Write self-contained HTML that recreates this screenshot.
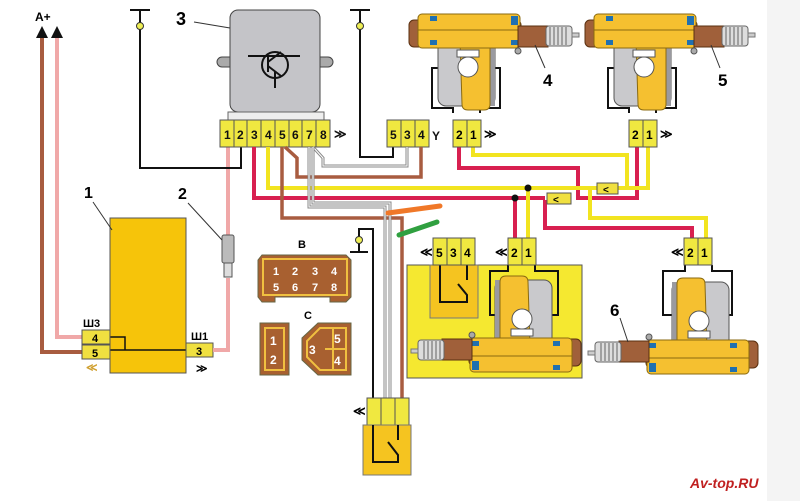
<!DOCTYPE html>
<html><head><meta charset="utf-8"><style>
html,body{margin:0;padding:0;background:#fff}
svg{display:block}
text{font-family:"Liberation Sans",sans-serif;font-weight:bold}
</style></head><body>
<svg width="800" height="501" viewBox="0 0 800 501" xmlns="http://www.w3.org/2000/svg">
<rect x="0" y="0" width="800" height="501" fill="#fff"/>
<rect x="767" y="0" width="33" height="501" fill="#f4f4f4"/>
<defs>
<g id="act">
  <rect x="438" y="40" width="57" height="66" rx="8" fill="#c9c9cc" stroke="#555" stroke-width="1"/>
  <rect x="472" y="40" width="23" height="66" fill="#9a9aa0"/>
  <path d="M460 40 L490 40 L490 104 Q490 110 484 110 L468 110 Q462 110 462 104 Z" fill="#f5c030" stroke="#8a6a10" stroke-width="1"/>
  <rect x="409" y="20" width="112" height="27" rx="5" fill="#a0603a" stroke="#5a3010"/>
  <rect x="418" y="14" width="102" height="34" rx="4" fill="#f5c030" stroke="#8a6a10"/>
  <line x1="418" y1="30" x2="520" y2="30" stroke="#8a6a10" stroke-width="1"/>
  <rect x="430" y="16" width="7" height="5" fill="#2070b0"/>
  <rect x="511" y="16" width="7" height="9" fill="#2070b0"/>
  <rect x="430" y="40" width="7" height="5" fill="#2070b0"/>
  <rect x="511" y="40" width="7" height="5" fill="#2070b0"/>
  <rect x="518" y="26" width="30" height="21" fill="#a0603a" stroke="#5a3010"/>
  <rect x="546" y="26" width="26" height="20" rx="3" fill="#ddd" stroke="#666"/>
  <path d="M550 27v18M554 27v18M558 27v18M562 27v18M566 27v18" stroke="#777" stroke-width="1.2"/>
  <rect x="572" y="33" width="7" height="4" fill="#ccc" stroke="#777"/>
  <circle cx="518" cy="51" r="3" fill="#aaa" stroke="#555"/>
  <rect x="457" y="50" width="22" height="7" fill="#fff" stroke="#555"/>
  <circle cx="468" cy="67" r="10" fill="#fff" stroke="#555"/>
</g>
</defs>

<path d="M42 38 V352 H84" stroke="#a85c40" stroke-width="4" fill="none"/>
<path d="M57 38 V337 H84" stroke="#f0a8a8" stroke-width="4" fill="none"/>
<path d="M36 38 L42 26 L48 38 Z M51 38 L57 26 L63 38 Z" fill="#111"/>
<text x="35" y="21" font-size="12">A+</text>

<rect x="110" y="218" width="76" height="155" fill="#f6c40a" stroke="#555"/>
<path d="M110 337 H125 V350 M110 350 H186" stroke="#111" stroke-width="1.5" fill="none"/>
<rect x="82" y="330" width="28" height="14" fill="#f0e040" stroke="#555"/>
<rect x="82" y="345" width="28" height="14" fill="#f0e040" stroke="#555"/>
<text x="92" y="342" font-size="11" font-weight="normal">4</text>
<text x="92" y="357" font-size="11" font-weight="normal">5</text>
<text x="83" y="327" font-size="11">Ш3</text>
<text x="86" y="371" font-size="11" fill="#d0a030">≪</text>
<rect x="186" y="343" width="27" height="14" fill="#f0e040" stroke="#555"/>
<text x="196" y="355" font-size="11" font-weight="normal">3</text>
<text x="191" y="340" font-size="11">Ш1</text>
<text x="196" y="372" font-size="11" font-weight="normal">≫</text>
<text x="84" y="198" font-size="16">1</text>
<line x1="93" y1="202" x2="112" y2="230" stroke="#333"/>

<path d="M228 147 V235 M228 278 V350 H213" stroke="#f0a8a8" stroke-width="4" fill="none"/>
<rect x="222" y="235" width="12" height="28" rx="2" fill="#bbb" stroke="#555"/>
<rect x="224" y="263" width="8" height="14" fill="#ddd" stroke="#555"/>
<text x="178" y="199" font-size="16">2</text>
<line x1="188" y1="203" x2="222" y2="240" stroke="#333"/>

<path d="M130 10 H150 M140 10 V25 M140 25 V168 H241 V147" stroke="#111" stroke-width="2" fill="none"/>
<circle cx="140" cy="26" r="3.5" fill="#ee5" stroke="#333"/>
<path d="M350 10 H370 M360 10 V157 H393 V147" stroke="#111" stroke-width="2" fill="none"/>
<circle cx="360" cy="26" r="3.5" fill="#ee5" stroke="#333"/>

<path d="M222 57 h10 v10 h-10 a5 5 0 0 1 0-10z M328 57 h-10 v10 h10 a5 5 0 0 0 0-10z" fill="#aaa" stroke="#444"/>
<rect x="230" y="10" width="90" height="102" rx="8" fill="#c4c4c8" stroke="#444"/>
<circle cx="275" cy="65" r="13" fill="none" stroke="#111" stroke-width="2"/>
<path d="M248 56 H300 M268 56 V72 M268 62 L281 52 M268 66 L281 76 M275 72 V88" stroke="#111" stroke-width="2" fill="none"/>
<text x="176" y="25" font-size="18">3</text>
<line x1="194" y1="22" x2="230" y2="28" stroke="#333"/>
<rect x="228" y="112" width="96" height="8" fill="#eee" stroke="#666"/>
<g font-size="12" font-weight="normal" fill="#111">
<rect x="220" y="120" width="110" height="27" fill="#f0e840" stroke="#555"/>
<path d="M234 120v27M247 120v27M261 120v27M275 120v27M289 120v27M302 120v27M316 120v27" stroke="#555"/>
<text x="224" y="139">1</text><text x="237" y="139">2</text><text x="251" y="139">3</text><text x="265" y="139">4</text><text x="279" y="139">5</text><text x="292" y="139">6</text><text x="306" y="139">7</text><text x="320" y="139">8</text>
<text x="334" y="138">≫</text>
<rect x="387" y="120" width="42" height="27" fill="#f0e840" stroke="#555"/>
<path d="M401 120v27M415 120v27" stroke="#555"/>
<text x="390" y="139">5</text><text x="404" y="139">3</text><text x="418" y="139">4</text>
<text x="432" y="140">Y</text>
</g>

<path d="M254 147 V198 H545 M576 198 H637 V147" stroke="#d82050" stroke-width="4" fill="none"/>
<path d="M459 147 V168 H578 V198" stroke="#d82050" stroke-width="4" fill="none"/>
<path d="M268 147 V188 H597 M617 188 H648 V147" stroke="#f2e420" stroke-width="4" fill="none"/>
<path d="M473 147 V155 H627 V188" stroke="#f2e420" stroke-width="4" fill="none"/>
<path d="M285 147 L297 158 V177 H421 V147" stroke="#a85c40" stroke-width="3.5" fill="none"/>
<path d="M282 147 V218 H402 V398" stroke="#a85c40" stroke-width="3.5" fill="none"/>
<path d="M309 147 V207 H385 V398" stroke="#888" stroke-width="3" fill="none"/>
<path d="M309 147 V207 H385 V398" stroke="#fff" stroke-width="1" fill="none"/>
<path d="M313 147 L323 158 V166 H407 V147" stroke="#888" stroke-width="3" fill="none"/>
<path d="M313 147 L323 158 V166 H407 V147" stroke="#fff" stroke-width="1" fill="none"/>
<path d="M313 147 V203 H390 V398" stroke="#888" stroke-width="3" fill="none"/>
<path d="M313 147 V203 H390 V398" stroke="#fff" stroke-width="1" fill="none"/>
<path d="M350 252 H368 M359 252 V229 H373 V398" stroke="#111" stroke-width="2" fill="none"/>
<circle cx="359" cy="240" r="3.5" fill="#ee5" stroke="#333"/>
<path d="M515 198 V240 M545 200 V228 H692 V240" stroke="#d82050" stroke-width="4" fill="none"/>
<path d="M528 188 V240 M590 190 V218 H706 V240" stroke="#f2e420" stroke-width="4" fill="none"/>
<circle cx="515" cy="198" r="3.5" fill="#111"/>
<circle cx="528" cy="188" r="3.5" fill="#111"/>
<rect x="547" y="193" width="24" height="11" fill="#f0e040" stroke="#555"/>
<text x="553" y="203" font-size="10">&lt;</text>
<rect x="597" y="183" width="21" height="11" fill="#f0e040" stroke="#555"/>
<text x="603" y="193" font-size="10">&lt;</text>
<path d="M388 213 L440 206" stroke="#f07828" stroke-width="5" stroke-linecap="round"/>
<path d="M399 235 L437 222" stroke="#30a040" stroke-width="5" stroke-linecap="round"/>

<path d="M453 113 V108 H432 V68 H500 V108 H480 V113" stroke="#111" stroke-width="2" fill="none"/>
<use href="#act"/>
<g transform="translate(176,0)">
<path d="M453 113 V108 H432 V68 H500 V108 H480 V113" stroke="#111" stroke-width="2" fill="none"/>
<use href="#act"/>
</g>
<g font-size="12" font-weight="normal">
<rect x="453" y="120" width="28" height="27" fill="#f0e840" stroke="#555"/><path d="M467 120v27" stroke="#555"/>
<text x="456" y="139">2</text><text x="470" y="139">1</text><text x="484" y="138">≫</text>
<rect x="629" y="120" width="28" height="27" fill="#f0e840" stroke="#555"/><path d="M643 120v27" stroke="#555"/>
<text x="632" y="139">2</text><text x="646" y="139">1</text><text x="660" y="138">≫</text>
</g>
<text x="543" y="86" font-size="17">4</text>
<line x1="535" y1="45" x2="545" y2="68" stroke="#333"/>
<text x="718" y="86" font-size="17">5</text>
<line x1="711" y1="45" x2="720" y2="68" stroke="#333"/>

<rect x="407" y="265" width="175" height="113" fill="#f5e830" stroke="#555"/>
<rect x="430" y="265" width="48" height="53" fill="#f5c420" stroke="#777"/>
<path d="M440 265 V302 H467 V295 L458 284 M467 265 V280" stroke="#111" stroke-width="2" fill="none"/>
<path d="M508 265 V271 H490 V315 H558 V271 H535 V265" stroke="#111" stroke-width="2" fill="none"/>
<use href="#act" transform="translate(990,386) rotate(180)"/>
<path d="M685 265 V271 H663 V315 H732 V271 H712 V265" stroke="#111" stroke-width="2" fill="none"/>
<use href="#act" transform="translate(1167,388) rotate(180)"/>
<g font-size="12" font-weight="normal">
<rect x="433" y="238" width="42" height="27" fill="#f0e840" stroke="#555"/><path d="M447 238v27M461 238v27" stroke="#555"/>
<text x="436" y="257">5</text><text x="450" y="257">3</text><text x="464" y="257">4</text><text x="420" y="256">≪</text>
<rect x="508" y="238" width="28" height="27" fill="#f0e840" stroke="#555"/><path d="M522 238v27" stroke="#555"/>
<text x="511" y="257">2</text><text x="525" y="257">1</text><text x="495" y="256">≪</text>
<rect x="684" y="238" width="28" height="27" fill="#f0e840" stroke="#555"/><path d="M698 238v27" stroke="#555"/>
<text x="687" y="257">2</text><text x="701" y="257">1</text><text x="671" y="256">≪</text>
</g>
<text x="610" y="316" font-size="17">6</text>
<line x1="620" y1="318" x2="628" y2="342" stroke="#333"/>

<text x="298" y="248" font-size="11">B</text>
<path d="M262 255 H346 L351 260 V297 L346 302 H330 V297 H275 V302 H262 L258 297 V260 Z" fill="#a86030" stroke="#664"/>
<rect x="263" y="259" width="84" height="36" fill="none" stroke="#f0c040" stroke-width="2"/>
<g font-size="11" fill="#fff" font-weight="normal">
<text x="273" y="275">1</text><text x="292" y="275">2</text><text x="312" y="275">3</text><text x="331" y="275">4</text>
<text x="273" y="291">5</text><text x="292" y="291">6</text><text x="312" y="291">7</text><text x="331" y="291">8</text>
</g>
<rect x="260" y="323" width="29" height="52" fill="#a86030" stroke="#664"/>
<rect x="265" y="328" width="19" height="42" fill="none" stroke="#f0c040" stroke-width="2"/>
<text x="270" y="345" font-size="12" fill="#fff" font-weight="normal">1</text>
<text x="270" y="364" font-size="12" fill="#fff" font-weight="normal">2</text>
<text x="304" y="319" font-size="11">C</text>
<path d="M318 323 H351 V375 H318 L302 360 V338 Z" fill="#a86030" stroke="#664"/>
<path d="M320 328 H346 V370 H320 L307 357 V341 Z M325 349 H346 M333 328 V370" fill="none" stroke="#f0c040" stroke-width="2"/>
<text x="309" y="354" font-size="12" fill="#fff" font-weight="normal">3</text>
<text x="334" y="343" font-size="12" fill="#fff" font-weight="normal">5</text>
<text x="334" y="365" font-size="12" fill="#fff" font-weight="normal">4</text>

<rect x="367" y="398" width="42" height="27" fill="#f0e840" stroke="#555"/>
<path d="M381 398v27M395 398v27" stroke="#555"/>
<text x="353" y="415" font-size="12" font-weight="normal">≪</text>
<rect x="363" y="425" width="48" height="50" fill="#f5c420" stroke="#777"/>
<path d="M373 425 V462 H398 V455 L388 442 M398 425 V440" stroke="#111" stroke-width="2" fill="none"/>

<text x="690" y="488" font-size="14" fill="#c02020" font-style="italic" font-family="Liberation Serif">Av-top.RU</text>
</svg>
</body></html>
